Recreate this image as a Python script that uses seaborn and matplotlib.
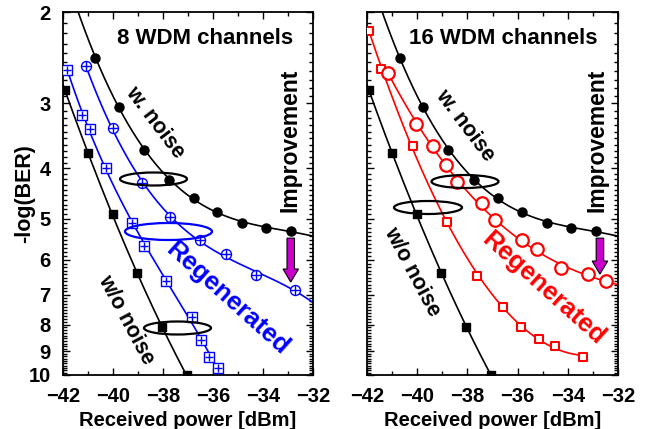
import numpy as np
import pandas as pd
import matplotlib
matplotlib.use("Agg")
import matplotlib.pyplot as plt
import seaborn as sns
from matplotlib.patches import Ellipse, FancyArrow
from matplotlib.ticker import FixedLocator, FixedFormatter, NullFormatter

# ---------------- data ----------------
# black: with noise (filled circles)
pw_noise = [-40.70, -39.75, -38.77, -37.74, -36.77, -35.83, -34.83, -33.86, -32.88]
ber_noise = [2.45, 3.05, 3.68, 4.22, 4.56, 4.85, 5.09, 5.20, 5.29]
# black: without noise (filled squares)
pw_clean = [-41.93, -40.99, -40.01, -39.05, -38.05, -37.05]
ber_clean = [2.83, 3.74, 4.90, 6.37, 8.08, 10.0]
# 8 WDM regenerated (blue)
pw_reg8_sq = [-41.83, -41.23, -40.92, -40.27, -39.23, -38.76, -37.89, -36.85, -36.48, -36.15, -35.81]
ber_reg8_sq = [2.59, 3.16, 3.36, 4.00, 5.10, 5.64, 6.58, 7.72, 8.57, 9.22, 9.71]
pw_reg8_ci = [-41.09, -40.01, -38.85, -37.72, -36.52, -35.48, -34.29, -32.73]
ber_reg8_ci = [2.54, 3.35, 4.26, 4.96, 5.50, 5.86, 6.41, 6.86]
# 16 WDM regenerated (red)
pw_reg16_sq = [-41.91, -41.44, -40.18, -38.82, -37.63, -36.59, -35.86, -35.13, -34.51, -33.41]
ber_reg16_sq = [2.18, 2.57, 3.62, 5.07, 6.45, 7.39, 8.07, 8.54, 8.79, 9.22]
pw_reg16_ci = [-41.15, -40.04, -39.38, -38.85, -38.43, -37.43, -36.92, -35.84, -35.24, -34.29, -33.21, -32.49]
ber_reg16_ci = [2.62, 3.29, 3.62, 3.95, 4.25, 4.67, 5.03, 5.50, 5.73, 6.23, 6.39, 6.60]

x_ticks = [-42, -40, -38, -36, -34, -32]
y_ticks = [2, 3, 4, 5, 6, 7, 8, 9, 10]
titles = ["8 WDM channels", "16 WDM channels"]

# ---------------- style ----------------
sns.set_theme(style="ticks")
plt.rcParams["font.family"] = ["Liberation Sans", "DejaVu Sans"]
plt.rcParams["font.weight"] = "bold"
plt.rcParams["axes.labelweight"] = "bold"
for k in ["text.color", "axes.labelcolor", "xtick.color", "ytick.color", "axes.edgecolor"]:
    plt.rcParams[k] = "black"

BLUE = "#0000FF"
RED = "#FF0000"
MAG = "#CC00CC"

fig = plt.figure(figsize=(6.51, 4.29), dpi=100)
W, H = 651, 429
ax1 = fig.add_axes([63 / W, (H - 375) / H, 250 / W, 363 / H])
ax2 = fig.add_axes([367 / W, (H - 375) / H, 251 / W, 363 / H])


def smooth(ax, xs, ys, color, x0, x1, deg=3, lw=1.2):
    c = np.polyfit(xs, np.log10(ys), deg)
    gx = np.linspace(x0, x1, 200)
    gy = 10 ** np.polyval(c, gx)
    sns.lineplot(x=gx, y=gy, ax=ax, color=color, lw=lw, sort=False, zorder=2)


def marks(ax, xs, ys, color, marker, size, face, lw=1.0, cross=False):
    sns.scatterplot(x=xs, y=ys, ax=ax, marker=marker, s=size ** 2,
                    facecolor=face, edgecolor=color, linewidth=lw, zorder=4)
    if cross:
        sns.scatterplot(x=xs, y=ys, ax=ax, marker="+", s=(size * 0.95) ** 2,
                        color=color, linewidth=1.0, zorder=5)


def style_axes(ax, show_ylabels):
    ax.set_yscale("log")
    ax.set_xlim(-42, -32)
    ax.set_ylim(10, 2)
    ax.yaxis.set_major_locator(FixedLocator(y_ticks))
    ax.yaxis.set_major_formatter(FixedFormatter([str(t) for t in y_ticks]))
    minors = [v for v in np.round(np.arange(2.0, 10.0, 0.1), 2) if abs(v - round(v)) > 1e-6]
    ax.yaxis.set_minor_locator(FixedLocator(minors))
    ax.yaxis.set_minor_formatter(NullFormatter())
    ax.xaxis.set_major_locator(FixedLocator(x_ticks))
    ax.xaxis.set_minor_locator(FixedLocator(list(range(-42, -31))))
    ax.tick_params(which="both", direction="in", top=True, right=True,
                   width=1.0, color="black", labelcolor="black")
    ax.tick_params(which="major", length=5, labelsize=14.5)
    ax.tick_params(axis="x", which="major", pad=9)
    ax.tick_params(axis="y", which="major", pad=9)
    ax.tick_params(which="minor", length=3)
    for lab in ax.get_xticklabels() + ax.get_yticklabels():
        lab.set_fontweight("bold")
    if not show_ylabels:
        ax.set_yticklabels([])
    for s in ax.spines.values():
        s.set_linewidth(1.3)
        s.set_color("black")
    ax.set_xlabel("Received power [dBm]", fontsize=14.5, fontweight="bold", labelpad=3)


def ell(ax, cx, cy, w, h, color, x0, wpx):
    ax.add_patch(Ellipse(((cx - x0) / wpx, 1 - (cy - 12) / 363), w / wpx, h / 363,
                         transform=ax.transAxes, fill=False, edgecolor=color,
                         lw=1.6, zorder=6))


def arrow(ax, xf, ytop, ybot):
    L = ytop - ybot
    hl = 0.036
    ax.add_patch(FancyArrow(xf, ytop, 0, -L, width=0.030, head_width=0.062,
                            head_length=hl, length_includes_head=True,
                            transform=ax.transAxes, facecolor=MAG,
                            edgecolor="black", lw=0.8, zorder=7))


TXT = dict(ha="center", va="center", rotation_mode="anchor", fontweight="bold")

# ---------- left panel: 8 WDM ----------
ax = ax1
smooth(ax, pw_noise, ber_noise, "black", -41.5, -32, deg=3)
smooth(ax, pw_clean, ber_clean, "black", -42.0, -37.05, deg=2)
smooth(ax, pw_reg8_sq, ber_reg8_sq, BLUE, -41.83, -35.81, deg=3)
smooth(ax, pw_reg8_ci, ber_reg8_ci, BLUE, -41.09, -32, deg=3)
marks(ax, pw_noise, ber_noise, "black", "o", 6.5, "black")
marks(ax, pw_clean, ber_clean, "black", "s", 5.8, "black")
marks(ax, pw_reg8_sq, ber_reg8_sq, BLUE, "s", 6.8, "white", lw=1.0, cross=True)
marks(ax, pw_reg8_ci, ber_reg8_ci, BLUE, "o", 7.2, "white", lw=1.0, cross=True)
style_axes(ax, True)
ax.set_ylabel("-log(BER)", fontsize=15.5, fontweight="bold", labelpad=-5)
ell(ax, 153.5, 179, 67, 13, "black", 63, 250)
ell(ax, 168.5, 231.5, 87, 17, BLUE, 63, 250)
ell(ax, 177.5, 328, 67, 13, "black", 63, 250)
arrow(ax, 0.911, 0.377, 0.256)
ax.text(0.57, 0.928, titles[0], transform=ax.transAxes, fontsize=16, **TXT)
ax.text(0.908, 0.647, "Improvement", transform=ax.transAxes, rotation=90,
        fontsize=16.5, **TXT)
ax.text((155 - 63) / 250, 1 - (122 - 12) / 363, "w. noise", transform=ax.transAxes,
        rotation=-53, fontsize=15.5, **TXT)
ax.text((227 - 63) / 250, 1 - (298 - 12) / 363, "Regenerated", transform=ax.transAxes,
        rotation=-42, fontsize=18.5, color=BLUE, **TXT)
ax.text((126 - 63) / 250, 1 - (320 - 12) / 363, "w/o noise", transform=ax.transAxes,
        rotation=-62, fontsize=15.5, **TXT)

# ---------- right panel: 16 WDM ----------
ax = ax2
smooth(ax, pw_noise, ber_noise, "black", -41.5, -32, deg=3)
smooth(ax, pw_clean, ber_clean, "black", -42.0, -37.05, deg=2)
smooth(ax, pw_reg16_sq, ber_reg16_sq, RED, -41.91, -33.41, deg=3)
smooth(ax, pw_reg16_ci, ber_reg16_ci, RED, -41.15, -32, deg=3)
marks(ax, pw_noise, ber_noise, "black", "o", 6.5, "black")
marks(ax, pw_clean, ber_clean, "black", "s", 5.8, "black")
marks(ax, pw_reg16_sq, ber_reg16_sq, RED, "s", 6.3, "white", lw=1.5)
marks(ax, pw_reg16_ci, ber_reg16_ci, RED, "o", 9.0, "white", lw=1.6)
style_axes(ax, False)
ax.set_ylabel("")
ell(ax, 465, 181.5, 67, 13, "black", 367, 251)
ell(ax, 428, 207.5, 68, 13, "black", 367, 251)
arrow(ax, 0.928, 0.377, 0.278)
ax.text(0.542, 0.928, titles[1], transform=ax.transAxes, fontsize=16, **TXT)
ax.text(0.916, 0.647, "Improvement", transform=ax.transAxes, rotation=90,
        fontsize=16.5, **TXT)
ax.text((465 - 367) / 251, 1 - (125 - 12) / 363, "w. noise", transform=ax.transAxes,
        rotation=-53, fontsize=15.5, **TXT)
ax.text((543 - 367) / 251, 1 - (288 - 12) / 363, "Regenerated", transform=ax.transAxes,
        rotation=-42, fontsize=18.5, color=RED, **TXT)
ax.text((412 - 367) / 251, 1 - (272 - 12) / 363, "w/o noise", transform=ax.transAxes,
        rotation=-62, fontsize=15.5, **TXT)

fig.savefig("out.png", dpi=100)
